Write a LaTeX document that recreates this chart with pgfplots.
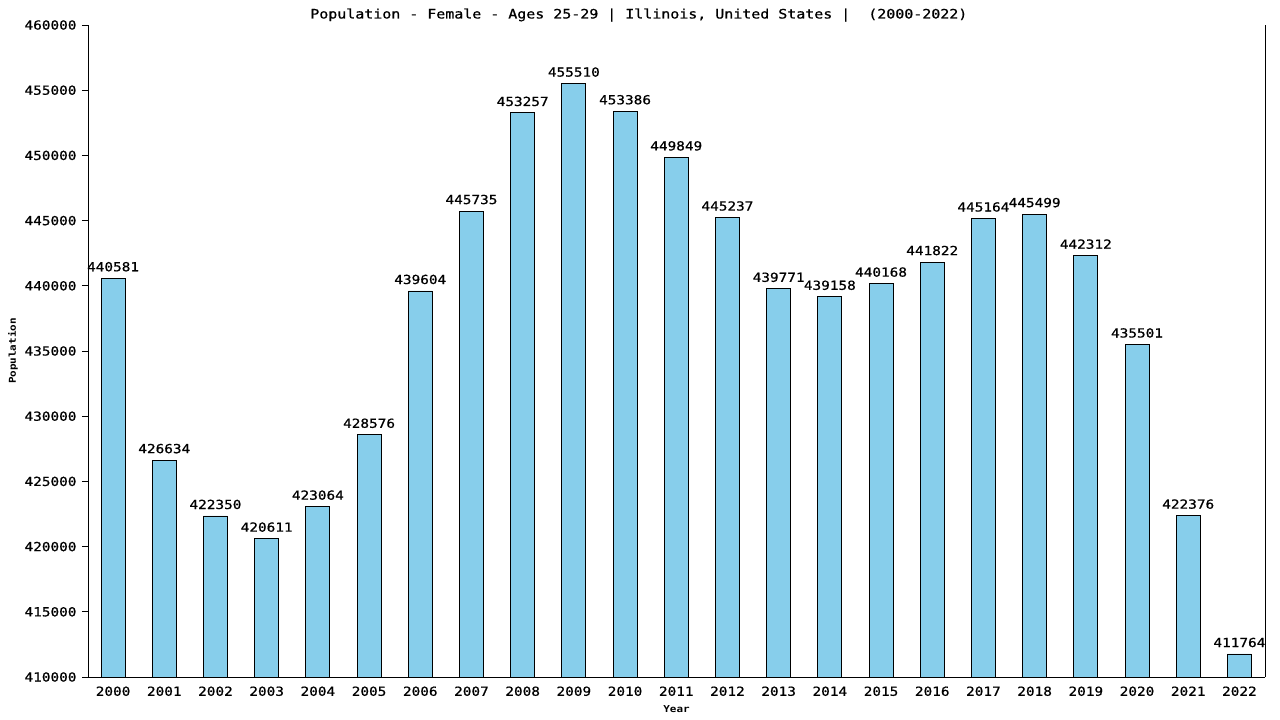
\documentclass[border=0pt]{standalone}
\usepackage{fontspec}
\setmainfont[FakeStretch=1.15]{DejaVu Sans Mono}
\newfontfamily\numfont[FakeStretch=1.15, FakeBold=0.8]{DejaVu Sans Mono}
\usepackage{pgfplots}
\usepackage{pgfplotstable}
\pgfplotsset{compat=1.18}
\definecolor{barblue}{RGB}{135,206,235}
\pgfplotstableread{
x y lab
0 440581 440581
1 426634 426634
2 422350 422350
3 420611 420611
4 423064 423064
5 428576 428576
6 439604 439604
7 445735 445735
8 453257 453257
9 455510 455510
10 453386 453386
11 449849 449849
12 445237 445237
13 439771 439771
14 439158 439158
15 440168 440168
16 441822 441822
17 445164 445164
18 445499 445499
19 442312 442312
20 435501 435501
21 422376 422376
22 411764 411764
}\datatable
\newcommand{\nf}{\numfont\fontsize{12.5bp}{15bp}\selectfont}
\newcommand{\tf}{\numfont\fontsize{13bp}{15bp}\selectfont}
\newcommand{\smf}{\fontsize{9.5bp}{11bp}\selectfont\bfseries}
\begin{document}
\begin{tikzpicture}
\useasboundingbox (0,0) rectangle (1280bp,720bp);
\begin{axis}[
  at={(88bp,43bp)}, anchor=south west,
  scale only axis, width=1177bp, height=652bp,
  xmin=-0.49, xmax=22.5, ymin=410000, ymax=460000,
  scaled y ticks=false,
  separate axis lines,
  axis x line*=bottom, axis y line*=box,
  every outer x axis line/.append style={-},
  every outer y axis line/.append style={-},
  axis line style={line width=0.8bp},
  ytick={410000,415000,420000,425000,430000,435000,440000,445000,450000,455000,460000},
  yticklabels={410000,415000,420000,425000,430000,435000,440000,445000,450000,455000,460000},
  xtick={0,...,22},
  xticklabels={2000,2001,2002,2003,2004,2005,2006,2007,2008,2009,2010,2011,2012,2013,2014,2015,2016,2017,2018,2019,2020,2021,2022},
  ytick pos=left,
  tick align=outside,
  major tick length=6bp,
  xtick style={draw=none},
  ytick style={line width=0.8bp, black},
  ticklabel style={font=\nf},
  xticklabel style={yshift=0bp},
  yticklabel style={xshift=-2bp},
  title={Population - Female - Ages 25-29 | Illinois, United States |\ \ (2000-2022)},
  title style={font=\tf, at={(axis description cs:0.468,1.0061)}, anchor=center},
  xlabel={Year},
  xlabel style={font=\smf, at={(axis description cs:0.5,-0.049)}, anchor=center},
  ylabel={Population},
  ylabel style={font=\smf, at={(axis description cs:-0.0637,0.5)}, anchor=center, rotate=0},
  clip=true,
]
\addplot[ybar, bar width=24bp, fill=barblue, draw=black, line width=0.9bp,
  point meta=explicit symbolic,
  nodes near coords,
  every node near coord/.append style={font=\nf, black, yshift=3bp}]
  table[x=x, y=y, meta=lab] {\datatable};
\end{axis}
\end{tikzpicture}
\end{document}
